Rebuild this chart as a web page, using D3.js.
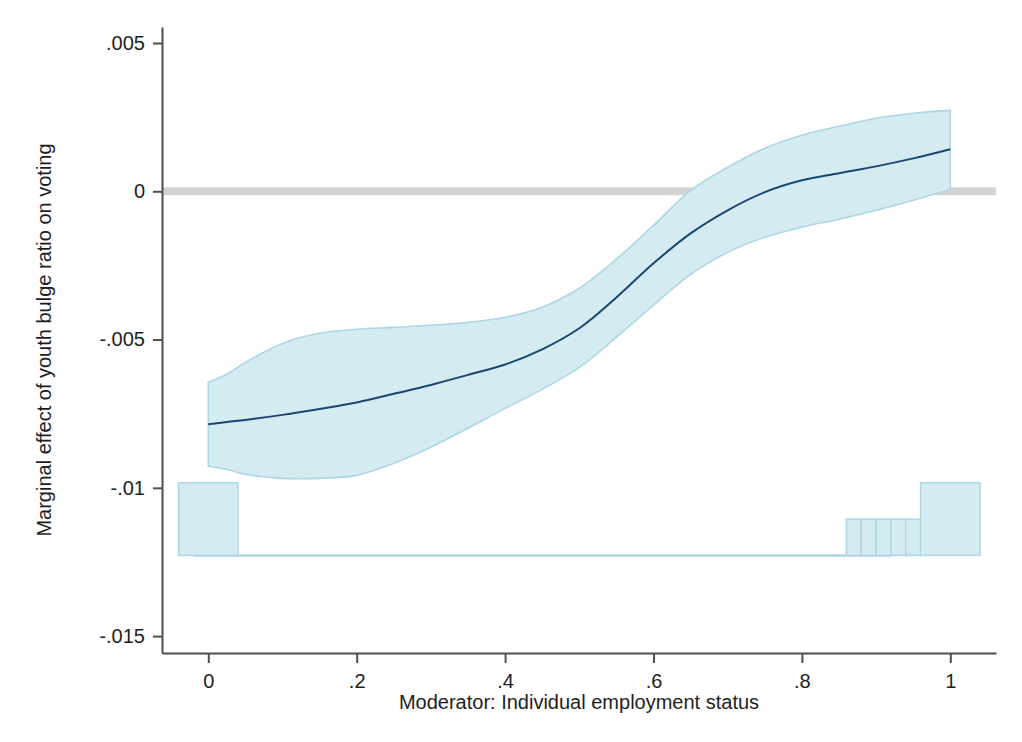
<!DOCTYPE html>
<html>
<head>
<meta charset="utf-8">
<script src="https://cdn.jsdelivr.net/npm/d3@7"></script>
<style>
  body { margin: 0; background: #fff; }
  svg { font-family: "Liberation Sans", Arial, sans-serif; }
</style>
</head>
<body>
<div id="chart-container"></div>
<script>
// values of the moderator where the effect is evaluated
const moderator = [0, 0.025, 0.05, 0.1, 0.15, 0.2, 0.25, 0.3, 0.35, 0.4, 0.45, 0.5,
                   0.55, 0.6, 0.65, 0.7, 0.75, 0.8, 0.85, 0.9, 0.95, 1];
// marginal effect and its confidence band
const effect = [-0.00786, -0.00778, -0.00771, -0.00754, -0.00734, -0.00712, -0.00683, -0.00653,
                -0.00619, -0.00584, -0.00533, -0.00462, -0.00358, -0.00243, -0.00142, -0.00064,
                -0.00003, 0.00037, 0.00061, 0.00084, 0.00111, 0.00142];
const upper = [-0.00644, -0.00617, -0.00577, -0.00513, -0.00479, -0.00465, -0.00459, -0.00452,
               -0.00442, -0.00425, -0.00391, -0.00327, -0.00229, -0.00115, 0.00003, 0.00081,
               0.00145, 0.00189, 0.00219, 0.00246, 0.00263, 0.00273];
const lower = [-0.00927, -0.00938, -0.00954, -0.00968, -0.00968, -0.00958, -0.00917, -0.00863,
               -0.00799, -0.00732, -0.00668, -0.00594, -0.00492, -0.00384, -0.00280, -0.00206,
               -0.00155, -0.00121, -0.00094, -0.00064, -0.00030, 0.00007];

// histogram of the moderator (relative heights)
const histFrom = [-0.04, 0.86, 0.88, 0.90, 0.92, 0.94, 0.96];
const histTo = [0.04, 0.88, 0.90, 0.92, 0.94, 0.96, 1.04];
const histCount = [2, 1, 1, 1, 1, 1, 2];
const histBase = [-0.02, 0.92];

const xTicks = [0, 0.2, 0.4, 0.6, 0.8, 1];
const yTicks = [-0.015, -0.01, -0.005, 0, 0.005];

//Set dimensions and margins
const margin = {top: 27, right: 26, bottom: 89, left: 162};
const width = 1022 - margin.left - margin.right;
const height = 742 - margin.top - margin.bottom;

const svg = d3.select("#chart-container")
    .append("svg")
        .attr("width", 1022)
        .attr("height", 742)
    .append("g")
        .attr("transform", `translate(${margin.left},${margin.top})`);

const x = d3.scaleLinear().domain([-0.0624, 1.0616]).range([0, width]);
const y = d3.scaleLinear().domain([-0.01557, 0.00554]).range([height, 0]);
const histY = d3.scaleLinear().domain([0, 2]).range([y(-0.01228), y(-0.00983)]);

// stata style labels: .005, -.01, 0
const stataFmt = v => {
    if (v === 0) return "0";
    let s = String(+v.toPrecision(6));
    return s.replace(/^(-?)0\./, "$1.");
};

// zero reference line
svg.append("line")
    .attr("x1", 0).attr("x2", width)
    .attr("y1", y(0)).attr("y2", y(0))
    .attr("stroke", "#d3d3d3")
    .attr("stroke-width", 8);

// histogram
svg.append("line")
    .attr("x1", x(histBase[0])).attr("x2", x(histBase[1]))
    .attr("y1", histY(0)).attr("y2", histY(0))
    .attr("stroke", "#acd6e5")
    .attr("stroke-width", 2.5);

svg.append("g")
    .selectAll("rect")
    .data(histCount)
    .enter()
    .append("rect")
    .attr("x", (d, i) => x(histFrom[i]))
    .attr("width", (d, i) => x(histTo[i]) - x(histFrom[i]))
    .attr("y", d => histY(d))
    .attr("height", d => histY(0) - histY(d))
    .attr("fill", "#d5ebf2")
    .attr("stroke", "#acd6e5")
    .attr("stroke-width", 1.5);

const pts = moderator.map((m, i) => ({m, e: effect[i], lo: lower[i], hi: upper[i]}));

// confidence band
const area = d3.area()
    .curve(d3.curveCatmullRom.alpha(0.5))
    .x(d => x(d.m))
    .y0(d => y(d.lo))
    .y1(d => y(d.hi));

svg.append("path")
    .datum(pts)
    .attr("d", area)
    .attr("fill", "#d5ebf2")
    .attr("stroke", "#acd6e5")
    .attr("stroke-width", 1.6);

// marginal effect line
const line = d3.line()
    .curve(d3.curveCatmullRom.alpha(0.5))
    .x(d => x(d.m))
    .y(d => y(d.e));

svg.append("path")
    .datum(pts)
    .attr("d", line)
    .attr("fill", "none")
    .attr("stroke", "#1a476f")
    .attr("stroke-width", 2);

// Add X axis
const xAxis = svg.append("g")
    .attr("transform", `translate(0,${height})`)
    .call(d3.axisBottom(x).tickValues(xTicks).tickFormat(stataFmt)
        .tickSize(10).tickSizeOuter(0).tickPadding(11));

// Add Y axis
const yAxis = svg.append("g")
    .call(d3.axisLeft(y).tickValues(yTicks).tickFormat(stataFmt)
        .tickSize(9).tickSizeOuter(0).tickPadding(8));

[xAxis, yAxis].forEach(a => {
    a.select(".domain").attr("stroke", "#4f4f4f").attr("stroke-width", 2);
    a.selectAll(".tick line").attr("stroke", "#4f4f4f").attr("stroke-width", 2);
    a.selectAll(".tick text")
        .style("font-size", "20px")
        .style("font-family", "'Liberation Sans', Arial, sans-serif")
        .attr("fill", "#1e1e1e");
});

// axis titles
svg.append("text")
    .attr("x", width / 2)
    .attr("y", height + 56)
    .style("text-anchor", "middle")
    .style("font-size", "20px")
    .attr("fill", "#1e1e1e")
    .text("Moderator: Individual employment status");

svg.append("text")
    .attr("transform", "rotate(-90)")
    .attr("x", -height / 2)
    .attr("y", 44 - margin.left)
    .attr("dy", "0.35em")
    .style("text-anchor", "middle")
    .style("font-size", "20px")
    .attr("fill", "#1e1e1e")
    .text("Marginal effect of youth bulge ratio on voting");
</script>
</body>
</html>
